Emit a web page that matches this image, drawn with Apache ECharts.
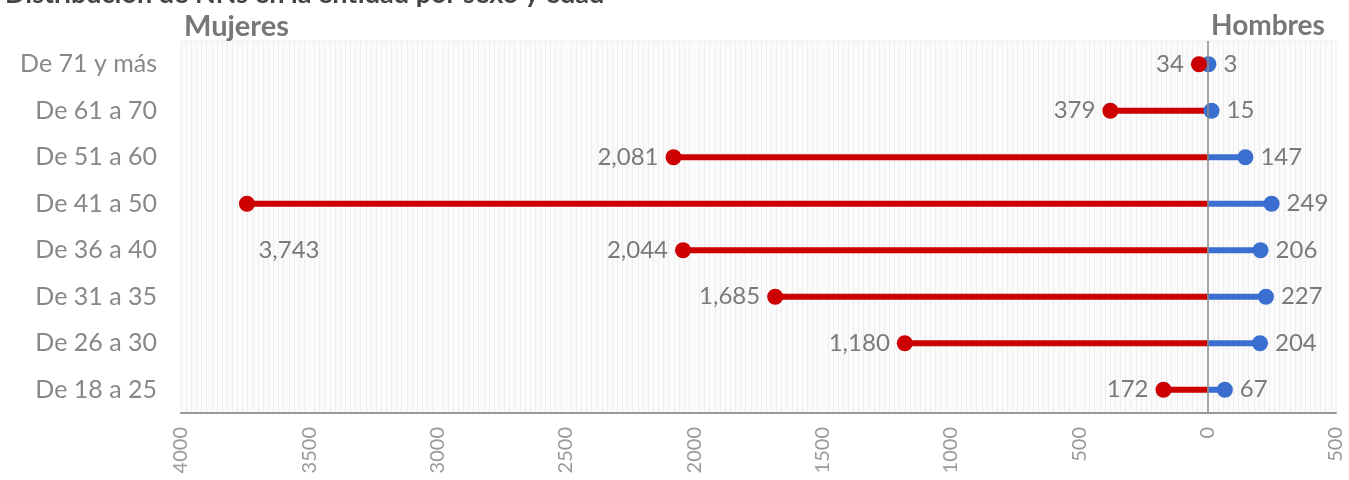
<!DOCTYPE html>
<html>
<head>
<meta charset="utf-8">
<script src="https://cdn.jsdelivr.net/npm/echarts@6/dist/echarts.min.js"></script>
<style>
html,body{margin:0;padding:0;background:#fff;}
#chart{width:1349px;height:480px;}
</style>
</head>
<body>
<div id="chart"></div>
<script>
const categories = ['De 71 y más','De 61 a 70','De 51 a 60','De 41 a 50','De 36 a 40','De 31 a 35','De 26 a 30','De 18 a 25'];
const mujeres = [34, 379, 2081, 3743, 2044, 1685, 1180, 172];
const hombres = [3, 15, 147, 249, 206, 227, 204, 67];
const xTicks = [-4000, -3500, -3000, -2500, -2000, -1500, -1000, -500, 0, 500];

const FONT = 'Lato';
const red = '#cc0000';
const blue = '#3a6fd0';
const labelGray = '#7a7a7a';

const mujNeg = mujeres.map(v => -v);
const fmt = n => Math.abs(n).toLocaleString('en-US');

const chart = echarts.init(document.getElementById('chart'), null, {renderer: 'canvas'});
chart.setOption({
  animation: false,
  backgroundColor: '#ffffff',
  textStyle: {fontFamily: FONT},
  title: [
    {text: 'Distribución de NNs en la entidad por sexo y edad', left: 0, top: -24,
     textStyle: {fontFamily: FONT, fontWeight: 'bold', fontSize: 27, color: '#444'}},
    {text: 'Mujeres', left: 179, top: 7,
     textStyle: {fontFamily: FONT, fontWeight: 'bold', fontSize: 29, color: '#777'}},
    {text: 'Hombres', left: 1206, top: 7,
     textStyle: {fontFamily: FONT, fontWeight: 'bold', fontSize: 28, color: '#777'}}
  ],
  grid: {left: 181, right: 13, top: 41, bottom: 67, containLabel: false,
         show: true, backgroundColor: '#fbfbfb', borderColor: '#eeeeee', borderWidth: 1},
  xAxis: {
    type: 'value', min: -4000, max: 500, interval: 500,
    axisLine: {show: true, onZero: false, lineStyle: {color: '#999', width: 2}},
    axisTick: {show: false},
    splitLine: {show: false},
    minorTick: {show: false, splitNumber: 25},
    minorSplitLine: {show: true, lineStyle: {color: '#eeeeee', width: 1}},
    axisLabel: {rotate: 90, margin: 14, color: '#999', fontSize: 20, fontFamily: FONT,
      formatter: v => xTicks.indexOf(v) >= 0 ? String(Math.abs(v)) : ''}
  },
  yAxis: {
    type: 'category', data: categories, inverse: true,
    axisLine: {show: false}, axisTick: {show: false},
    axisLabel: {color: '#888', fontSize: 25, fontFamily: FONT, margin: 24},
    splitLine: {show: false}
  },
  series: [
    {type: 'bar', stack: 'r', data: hombres, barWidth: 6, itemStyle: {color: blue}, z: 2,
     markLine: {silent: true, symbol: 'none', label: {show: false},
       lineStyle: {color: '#888', width: 1.5, type: 'solid'}, data: [{xAxis: 0}]}},
    {type: 'bar', stack: 'r', data: mujNeg, barWidth: 6, itemStyle: {color: red}, z: 2},
    {type: 'scatter', data: hombres.map((v, i) => [v, categories[i]]), symbolSize: 16, z: 3,
     itemStyle: {color: blue, opacity: 1},
     label: {show: true, position: 'right', distance: 7, color: labelGray, fontSize: 24,
       fontFamily: FONT, formatter: p => fmt(p.value[0])}},
    {type: 'scatter', z: 4,
     data: mujNeg.map((v, i) => {
       const d = {value: [v, categories[i]]};
       if (mujeres[i] === Math.max(...mujeres)) {
         d.label = {position: 'bottom', offset: [42, 20]};
       }
       return d;
     }),
     symbolSize: 16, itemStyle: {color: red, opacity: 1},
     label: {show: true, position: 'left', distance: 7, color: labelGray, fontSize: 24,
       fontFamily: FONT, formatter: p => fmt(p.value[0])}}
  ]
});
</script>
</body>
</html>
